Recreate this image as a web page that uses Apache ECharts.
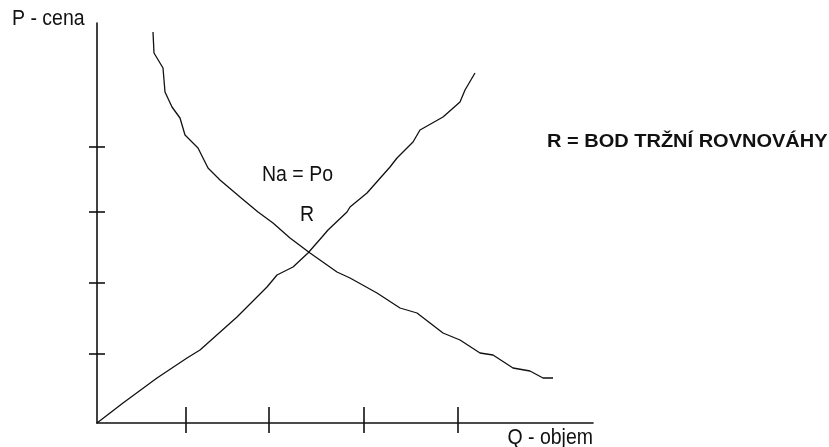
<!DOCTYPE html>
<html>
<head>
<meta charset="utf-8">
<script src="https://cdn.jsdelivr.net/npm/echarts@6/dist/echarts.min.js"></script>
<style>
  html, body { margin: 0; padding: 0; background: #fff; }
  #main { width: 829px; height: 447px; }
</style>
</head>
<body>
<div id="main"></div>
<script>
// demand curve (Na) and supply curve (Po), [Q, P]
var demand = [[56,391],[57,370],[66,355],[68,331],[75,316],[83,305],[88,288],[101,275],[111,255],[123,243],[143,226],[161,211],[176,200],[193,185],[213,170],[240,151],[253,145],[280,130],[303,115],[320,110],[346,90],[363,83],[383,70],[396,68],[416,55],[433,52],[446,45],[456,45]];
var supply = [[0,0],[26,20],[60,45],[90,65],[103,73],[140,106],[170,136],[180,148],[196,156],[211,170],[225,186],[231,193],[250,211],[253,216],[270,230],[293,256],[300,265],[316,281],[323,293],[346,306],[363,321],[368,333],[378,350]];
// hand drawn tick marks
var xTicks = [89, 172, 267, 361];
var yTicks = [69, 140, 211, 276];

var ink = '#111';
var myChart = echarts.init(document.getElementById('main'));
var regular = '19.5px "Liberation Sans", Arial, sans-serif';

function label(text, x, y, opts) {
  opts = opts || {};
  return {
    type: 'text', x: x, y: y,
    scaleX: opts.sx || 1, scaleY: opts.sy || 1.1,
    style: {
      text: text, fill: ink, font: opts.font || regular,
      textAlign: opts.align || 'left', align: opts.align || 'left',
      textVerticalAlign: 'middle', verticalAlign: 'middle'
    }
  };
}

myChart.setOption({
  animation: false,
  grid: { left: 97, right: 236, top: 23, bottom: 24 },
  xAxis: {
    type: 'value', min: 0, max: 496,
    axisLine: { lineStyle: { color: ink, width: 1.6 } },
    axisTick: { show: false }, axisLabel: { show: false }, splitLine: { show: false }
  },
  yAxis: {
    type: 'value', min: 0, max: 400,
    axisLine: { show: true, lineStyle: { color: ink, width: 1.6 } },
    axisTick: { show: false }, axisLabel: { show: false }, splitLine: { show: false }
  },
  series: [
    {
      name: 'Na', type: 'line', data: demand, showSymbol: false,
      lineStyle: { color: ink, width: 1.3 }
    },
    {
      name: 'Po', type: 'line', data: supply, showSymbol: false,
      lineStyle: { color: ink, width: 1.3 }
    },
    {
      type: 'custom', clip: false,
      data: xTicks.map(function (v) { return [v, 0]; }),
      renderItem: function (params, api) {
        var p = api.coord([api.value(0), 0]);
        return { type: 'line', shape: { x1: p[0], y1: p[1] - 16, x2: p[0], y2: p[1] + 10 },
                 style: { stroke: ink, lineWidth: 1.6 } };
      }
    },
    {
      type: 'custom', clip: false,
      data: yTicks.map(function (v) { return [0, v]; }),
      renderItem: function (params, api) {
        var p = api.coord([0, api.value(1)]);
        return { type: 'line', shape: { x1: p[0] - 8, y1: p[1], x2: p[0] + 8, y2: p[1] },
                 style: { stroke: ink, lineWidth: 1.6 } };
      }
    }
  ],
  graphic: [
    label('P - cena', 12, 19.5),
    label('Q - objem', 593, 438.5, { align: 'right' }),
    label('Na = Po', 262, 175),
    label('R', 300, 215),
    label('R = BOD TRŽNÍ ROVNOVÁHY', 547, 142,
      { font: 'bold 16px "Liberation Sans", Arial, sans-serif', sx: 1.25, sy: 1.12 })
  ]
});
</script>
</body>
</html>
